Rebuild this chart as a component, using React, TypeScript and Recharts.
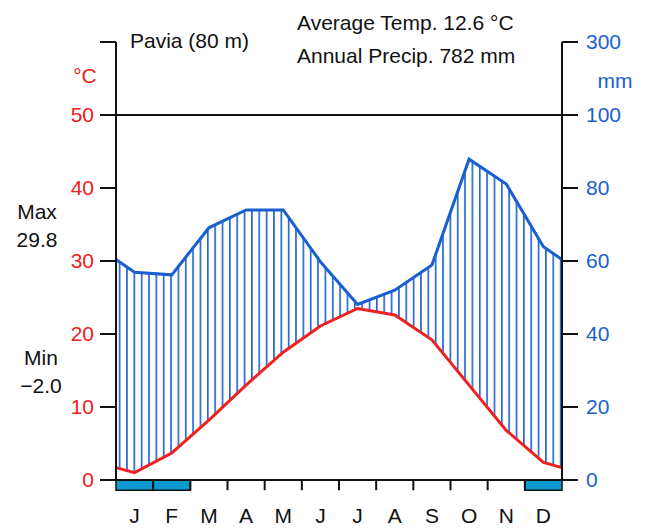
import React from 'react';
import { ComposedChart, Area, Line, XAxis, YAxis, ReferenceLine, ReferenceArea } from 'recharts';

// Walter-Lieth diagram: 10 °C on the left matches 20 mm on the right (up to 100 mm)
const months = ['J', 'F', 'M', 'A', 'M', 'J', 'J', 'A', 'S', 'O', 'N', 'D'];
const tempC = [1.0, 3.7, 8.2, 13.0, 17.5, 21.1, 23.5, 22.6, 19.2, 13.0, 6.8, 2.4];
const precipMm = [56.9, 56.2, 69.1, 74.0, 74.0, 59.8, 48.1, 52.0, 58.9, 87.9, 81.1, 63.9];
// values where the curves meet the left/right edges
const edgeTemp = 1.7;
const edgePrecip = 60.4;
const frostMonths = [0, 1, 11];
const tempTicks = [0, 10, 20, 30, 40, 50, 60];
const tempTickLabels = ['0', '10', '20', '30', '40', '50', ''];
const precipTickLabels = ['0', '20', '40', '60', '80', '100', '300'];

const RED = '#ee2020';
const BLUE = '#1a5fcf';
const FONT = '"Liberation Sans", Arial, sans-serif';

const data = [
  { x: 0, t: edgeTemp, p: edgePrecip / 2 },
  ...months.map((m, i) => ({ x: i + 0.5, t: tempC[i], p: precipMm[i] / 2 })),
  { x: 12, t: edgeTemp, p: edgePrecip / 2 },
];

export default function App() {
  return (
    <div style={{ position: 'absolute', left: 0, top: 0, width: 660, height: 528, fontFamily: FONT }}>
      <svg width={0} height={0} style={{ position: 'absolute' }}>
        <defs>
          <pattern id="hatch" patternUnits="userSpaceOnUse" x={116} y={0} width={7.35} height={10}>
            <line x1={3.6} y1={0} x2={3.6} y2={10} stroke={BLUE} strokeWidth={1.6} />
          </pattern>
        </defs>
      </svg>
      <ComposedChart width={660} height={528} data={data} margin={{ top: 42, right: 38, bottom: 8, left: 56 }}>
        <XAxis
          dataKey="x"
          type="number"
          domain={[0, 12]}
          ticks={months.map((m, i) => i + 0.5)}
          tickFormatter={(v) => months[Math.floor(v)]}
          tickLine={false}
          axisLine={false}
          tickSize={0}
          tickMargin={28}
          height={40}
          tick={{ fill: '#111', fontSize: 21, fontFamily: FONT }}
        />
        <YAxis
          yAxisId="t"
          domain={[0, 60]}
          ticks={tempTicks}
          allowDataOverflow
          width={60}
          tickSize={16}
          tickMargin={6}
          tickFormatter={(v) => tempTickLabels[tempTicks.indexOf(v)]}
          axisLine={{ stroke: '#111', strokeWidth: 2 }}
          tickLine={{ stroke: '#111', strokeWidth: 2 }}
          tick={{ fill: RED, fontSize: 21, fontFamily: FONT }}
        />
        <YAxis
          yAxisId="p"
          orientation="right"
          domain={[0, 60]}
          ticks={tempTicks}
          allowDataOverflow
          width={60}
          tickSize={16}
          tickMargin={8}
          tickFormatter={(v) => precipTickLabels[tempTicks.indexOf(v)]}
          axisLine={{ stroke: '#111', strokeWidth: 2 }}
          tickLine={{ stroke: '#111', strokeWidth: 2 }}
          tick={{ fill: BLUE, fontSize: 21, fontFamily: FONT }}
        />
        <Area
          yAxisId="t"
          type="linear"
          dataKey={(d: any) => [d.t, d.p]}
          stroke="none"
          fill="url(#hatch)"
          fillOpacity={1}
          isAnimationActive={false}
        />
        <Line yAxisId="t" type="linear" dataKey="t" stroke={RED} strokeWidth={3} dot={false} isAnimationActive={false} />
        <Line yAxisId="p" type="linear" dataKey="p" stroke={BLUE} strokeWidth={3} dot={false} isAnimationActive={false} />
        <ReferenceLine yAxisId="t" y={50} stroke="#111" strokeWidth={2} />
        <ReferenceLine yAxisId="t" y={0} stroke="#111" strokeWidth={2} />
        {frostMonths.map((m) => (
          <ReferenceArea
            key={m}
            yAxisId="t"
            x1={m}
            x2={m + 1}
            y1={-1.4}
            y2={0}
            fill="#0a9ad0"
            fillOpacity={1}
            stroke="#111"
            strokeWidth={1.5}
            ifOverflow="visible"
          />
        ))}
        {months.slice(1).map((m, i) => (
          <ReferenceLine
            key={i}
            yAxisId="t"
            segment={[{ x: i + 1, y: 0 }, { x: i + 1, y: -1.4 }]}
            stroke="#111"
            strokeWidth={2}
            ifOverflow="visible"
          />
        ))}
      </ComposedChart>
      <svg width={660} height={528} style={{ position: 'absolute', left: 0, top: 0, pointerEvents: 'none' }} fontFamily={FONT} fontSize={21}>
        <text x={130} y={48} fill="#111">Pavia (80 m)</text>
        <text x={297} y={30} fill="#111">Average Temp. 12.6 °C</text>
        <text x={297} y={63} fill="#111">Annual Precip. 782 mm</text>
        <text x={85} y={83} fill={RED} textAnchor="middle">°C</text>
        <text x={615} y={88} fill={BLUE} textAnchor="middle">mm</text>
        <text x={37} y={219} fill="#111" textAnchor="middle">Max</text>
        <text x={37} y={247} fill="#111" textAnchor="middle">29.8</text>
        <text x={41} y={365} fill="#111" textAnchor="middle">Min</text>
        <text x={41} y={393} fill="#111" textAnchor="middle">−2.0</text>
      </svg>
    </div>
  );
}
